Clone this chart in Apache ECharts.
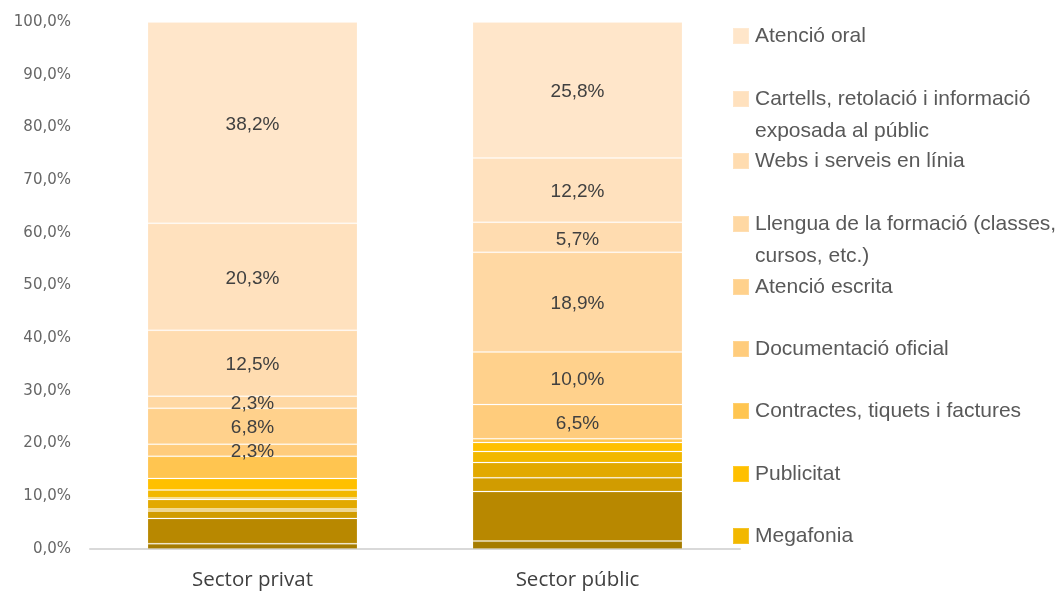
<!DOCTYPE html>
<html>
<head>
<meta charset="utf-8">
<script src="https://cdn.jsdelivr.net/npm/echarts@6/dist/echarts.min.js"></script>
<style>
  html, body { margin: 0; padding: 0; background: #fff; }
  #main { width: 1061px; height: 591px; }
</style>
</head>
<body>
<div id="main"></div>
<script>
// categories on the x axis
const categories = ["Sector privat", "Sector públic"];

// series, listed top of the stack first (same order as the legend)
const seriesNames = [
  "Atenció oral",
  "Cartells, retolació i informació exposada al públic",
  "Webs i serveis en línia",
  "Llengua de la formació (classes, cursos, etc.)",
  "Atenció escrita",
  "Documentació oficial",
  "Contractes, tiquets i factures",
  "Publicitat",
  "Megafonia",
  "Altres 1",
  "Altres 2",
  "Altres 3",
  "Altres 4",
  "Altres 5",
  "Altres 6"
];
const privatValues = [38.2, 20.3, 12.5, 2.3, 6.8, 2.3, 4.2, 2.2, 1.5, 0.3, 1.8, 0.4, 1.4, 4.8, 1.0];
const publicValues = [25.8, 12.2, 5.7, 18.9, 10.0, 6.5, 0.7, 1.7, 2.1, 0.0, 2.9, 0.0, 2.6, 9.4, 1.5];

// only these series carry value labels in the original
const labelledSeries = seriesNames.slice(0, 6);
// names shown in the (cut off) legend
const legendNames = seriesNames.slice(0, 9);

const colors = [
  "#FFE6CA", "#FFE1BE", "#FFDCB0", "#FFD8A3", "#FFD18C", "#FFCC7C",
  "#FFC550", "#FFC000", "#F2B800", "#E9B000", "#E2A900", "#D8A100",
  "#D19C00", "#B88800", "#A67C00"
];

// y axis ticks
const yMin = 0, yMax = 100, yStep = 10;

// wrapped legend text
const legendText = {
  "Cartells, retolació i informació exposada al públic": " \nCartells, retolació i informació\nexposada al públic",
  "Llengua de la formació (classes, cursos, etc.)": " \nLlengua de la formació (classes,\ncursos, etc.)"
};
const legendCenters = [36, 99, 161, 224, 287, 349, 411, 474, 536];

const fmt = (v) => v.toFixed(1).replace(".", ",") + "%";

const series = [];
for (let i = seriesNames.length - 1; i >= 0; i--) {
  const name = seriesNames[i];
  series.push({
    name: name,
    type: "bar",
    stack: "total",
    barWidth: 210,
    data: [privatValues[i], publicValues[i]].map((v) => (v === 0 ? null : v)),
    itemStyle: {
      color: colors[i],
      borderColor: "rgba(255,255,255,0.16)",
      borderWidth: 1
    },
    label: {
      show: labelledSeries.includes(name),
      position: "inside",
      offset: [0, 2],
      formatter: (p) => fmt(p.value),
      color: "#404040",
      fontFamily: "Liberation Sans",
      fontSize: 19
    },
    emphasis: { disabled: true }
  });
}

const legends = legendNames.map((name, i) => {
  const multi = !!legendText[name];
  return {
    data: [name],
    orient: "vertical",
    left: 732,
    top: legendCenters[i] - (multi ? 48 : 16),
    padding: 0,
    icon: "rect",
    itemWidth: 16,
    itemHeight: 16,
    itemGap: 0,
    selectedMode: false,
    formatter: (n) => legendText[n] || n,
    textStyle: {
      color: "#595959",
      fontFamily: "Liberation Sans",
      fontSize: 21,
      lineHeight: 32,
      padding: [0, 0, 0, 1]
    }
  };
});

const chart = echarts.init(document.getElementById("main"));
chart.setOption({
  animation: false,
  grid: { left: 90, right: 321, top: 22, bottom: 42 },
  legend: legends,
  xAxis: {
    type: "category",
    data: categories,
    axisLine: { lineStyle: { color: "#D9D9D9", width: 2 } },
    axisTick: { show: false },
    axisLabel: {
      color: "#404040",
      fontFamily: "Open Sans",
      fontSize: 20.5,
      margin: 21
    }
  },
  yAxis: {
    type: "value",
    min: yMin,
    max: yMax,
    interval: yStep,
    splitLine: { show: false },
    axisLine: { show: false },
    axisTick: { show: false },
    axisLabel: {
      formatter: (v) => fmt(v),
      color: "#666666",
      fontFamily: "DejaVu Sans",
      fontSize: 15,
      margin: 19
    }
  },
  series: series
});
</script>
</body>
</html>
